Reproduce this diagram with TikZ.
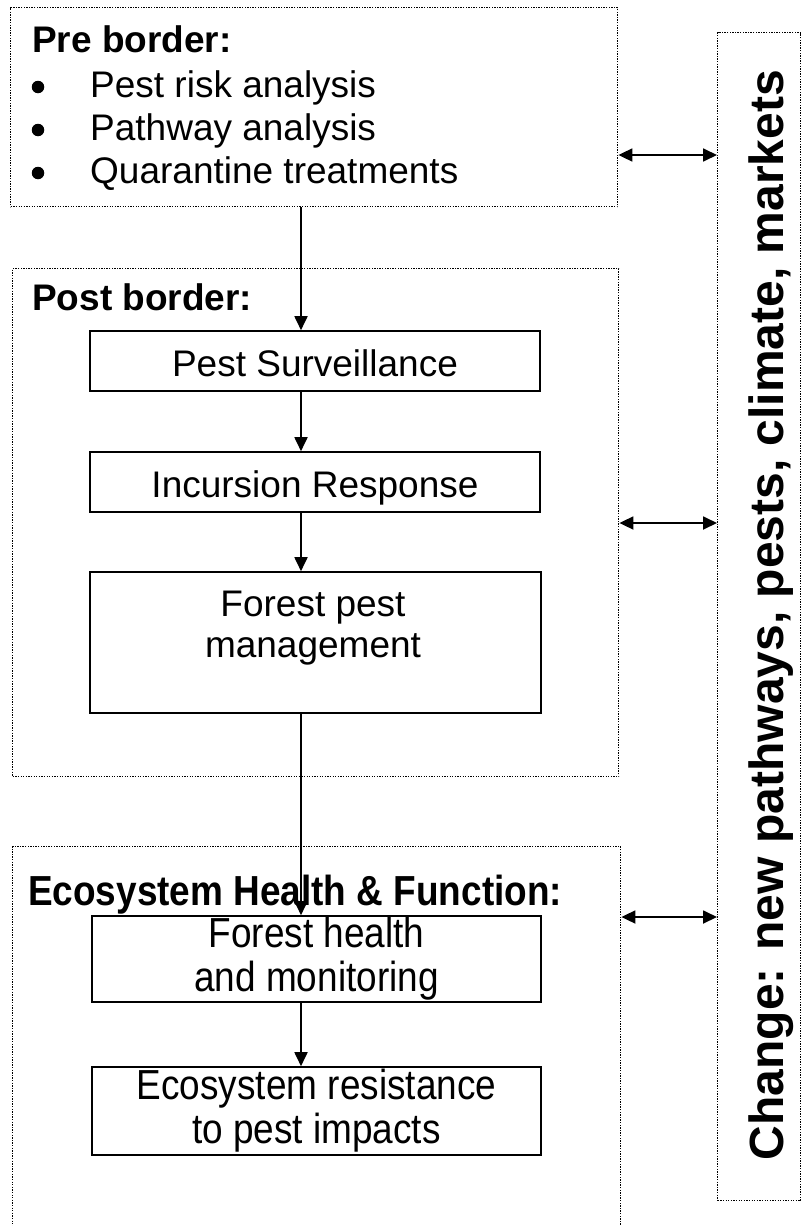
\documentclass[tikz,border=0pt]{standalone}
\usepackage{fontspec}
\setmainfont{Liberation Sans}
\newfontfamily\ecofont[FakeStretch=0.88]{Liberation Sans}
\usetikzlibrary{arrows.meta,positioning}

\tikzset{
  region/.style={draw, line width=1.4pt, dash pattern=on 1.3pt off 1.3pt,
    anchor=north west, inner sep=0pt},
  stage/.style={draw, line width=1.6pt, minimum width=450pt, inner sep=0pt,
    align=center, font=\fontsize{37}{41}\selectfont},
  ecostage/.style={stage, font=\ecofont\fontsize{42}{44}\selectfont},
  flow/.style={line width=1.8pt, -{Triangle[length=14pt,width=13pt]}},
  link/.style={line width=1.8pt,
    {Triangle[length=14pt,width=13pt]}-{Triangle[length=14pt,width=13pt]}},
  head/.style={anchor=base west, inner sep=0pt,
    font=\fontsize{37}{41}\selectfont\bfseries},
  item/.style={anchor=base west, inner sep=0pt, font=\fontsize{37}{41}\selectfont},
  dot/.style={circle, fill, inner sep=0pt, minimum size=12.5pt},
}

\begin{document}
\begin{tikzpicture}[x=1pt, y=-1pt]
  \useasboundingbox (0,0) rectangle (807,1226);

  % ---------------- pre border ----------------
  \node[region, minimum width=607pt, minimum height=199pt] (pre) at (10,7) {};
  \node[head] (prehead) at (32,52) {Pre border:};
  \foreach \i/\t in {1/Pest risk analysis,2/Pathway analysis,3/Quarantine treatments}{
    \node[dot] (bul\i) at (38,44+43*\i) {};
    \node[item] (item\i) at (90,54+43*\i) {\t};
  }

  % ---------------- post border ----------------
  \node[region, minimum width=606pt, minimum height=508pt] (post) at (12,268) {};
  \node[head] (posthead) at (32,310) {Post border:};
  \node[stage, minimum height=60pt, text height=30pt, text depth=0pt] (ps) at (315,361) {Pest Surveillance};
  \node[stage, minimum height=60pt, text height=30pt, text depth=0pt] (ir) at (315,482) {Incursion Response};
  \node[stage, minimum width=451pt, minimum height=141pt] (fpm) at (315.5,642.5) {};
  \node[stage, draw=none, minimum width=0pt, anchor=north] (fpmtext) at (313,590) {Forest pest\\ management};

  % ---------------- ecosystem ----------------
  \node[region, minimum width=608pt, minimum height=394pt] (eco) at (12,846) {};
  \node[head, font=\ecofont\fontsize{42}{44}\selectfont\bfseries] (ecohead) at (28,905) {Ecosystem Health \& Function:};
  \node[ecostage, minimum width=449pt, minimum height=86pt] (fh) at (316.5,959) {Forest health\\ and monitoring};
  \node[ecostage, minimum width=449pt, minimum height=88pt] (er) at (316.5,1111) {Ecosystem resistance\\ to pest impacts};

  % ---------------- change ----------------
  \node[region, minimum width=83pt, minimum height=1168pt] (change) at (717,32) {};
  \node[rotate=90, anchor=base, inner sep=0pt, font=\fontsize{48}{56}\selectfont\bfseries]
    (changetext) at (783,615) {Change: new pathways, pests, climate, markets};

  % ---------------- connectors ----------------
  \coordinate (spine) at (301,0);
  \draw[flow] (pre.south -| spine) -- (ps.north -| spine);
  \draw[flow] (ps.south -| spine) -- (ir.north -| spine);
  \draw[flow] (ir.south -| spine) -- (fpm.north -| spine);
  \draw[flow] (fpm.south -| spine) -- (fh.north -| spine);
  \draw[flow] (fh.south -| spine) -- (er.north -| spine);
  \draw[link] (pre.east |- 0,155) -- (change.west |- 0,155);
  \draw[link] (post.east |- 0,523) -- (change.west |- 0,523);
  \draw[link] (eco.east |- 0,917) -- (change.west |- 0,917);
\end{tikzpicture}
\end{document}
